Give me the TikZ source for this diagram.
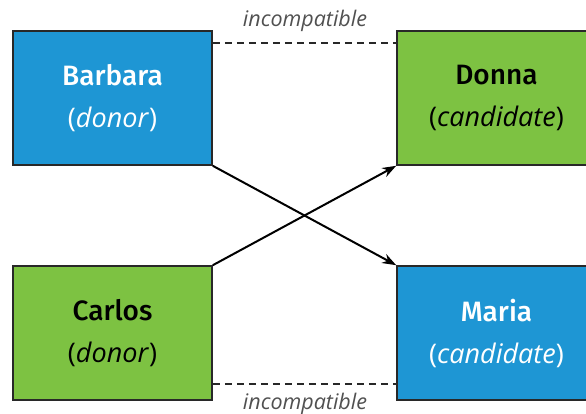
\documentclass[tikz,border=0pt]{standalone}
\usepackage{fontspec}
\setmainfont{Open Sans}
\newfontfamily\namefont{Fira Sans Medium}
\usetikzlibrary{arrows.meta}
\definecolor{boxblue}{RGB}{30,150,212}
\definecolor{boxgreen}{RGB}{125,194,66}
\definecolor{edgegray}{RGB}{40,40,40}
\definecolor{lblgray}{RGB}{80,80,80}
\tikzset{
  person/.style={draw=edgegray, line width=1.6pt, minimum width=199pt, minimum height=134pt,
    inner sep=0pt, align=center, font=\fontsize{27}{42}\selectfont},
  donorbox/.style={person, fill=boxblue, text=white},
  candbox/.style={person, fill=boxgreen, text=black},
  incomp/.style={draw=edgegray, dash pattern=on 7pt off 5pt, line width=1.6pt},
  lbl/.style={text=lblgray, font=\fontsize{21.5}{24}\selectfont\itshape, inner sep=0pt},
  match/.style={draw=black, line width=2pt, -{Stealth[length=14pt,width=10pt]}}
}
\newcommand{\who}[1]{{\namefont\fontsize{28}{42}\selectfont #1}}
\begin{document}
\begin{tikzpicture}[x=1pt,y=-1pt]
\useasboundingbox (0,0) rectangle (586,413);
\begin{scope}
\clip (0,0) rectangle (586,413);
\node[donorbox] (b) at (112.5,98) {\who{Barbara}\\(\textit{donor})};
\node[candbox]  (d) at (496.5,98) {\who{Donna}\\(\textit{candidate})};
\node[candbox]  (c) at (112.5,333) {\who{Carlos}\\(\textit{donor})};
\node[donorbox] (m) at (496.5,333) {\who{Maria}\\(\textit{candidate})};
\coordinate (bt) at ([yshift=-13pt]b.north east);
\coordinate (dt) at ([yshift=-13pt]d.north west);
\coordinate (cb) at ([yshift=17pt]c.south east);
\coordinate (mb) at ([yshift=17pt]m.south west);
\draw[incomp] (bt) -- (dt);
\draw[incomp] (cb) -- (mb);
\node[lbl] (t1) at (305,21) {incompatible};
\node[lbl] (t2) at (305,404) {incompatible};
\draw[match] (b.south east) -- (m.north west);
\draw[match] (c.north east) -- (d.south west);
\end{scope}
\end{tikzpicture}
\end{document}
